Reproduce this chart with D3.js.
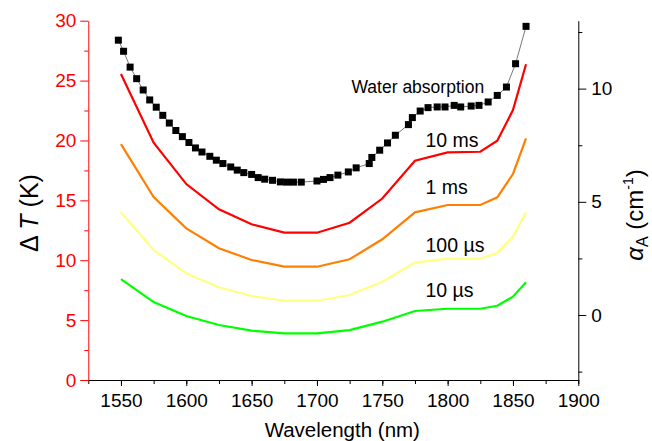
<!DOCTYPE html>
<html>
<head>
<meta charset="utf-8">
<script src="https://cdn.jsdelivr.net/npm/d3@7"></script>
<style>
  body { margin: 0; background: #fff; }
  svg text { font-family: "Liberation Sans", Arial, sans-serif; }
</style>
</head>
<body>
<div id="chart"></div>
<script>
// wavelength grid of the simulated temperature rise curves (nm)
var wavelengths = [1550, 1575, 1600, 1625, 1650, 1675, 1700, 1725, 1750, 1775, 1800, 1825, 1838, 1850, 1860];

// temperature rise (K) for each exposure time
var dT_10ms  = [25.55, 19.82, 16.36, 14.25, 13.0, 12.3, 12.3, 13.13, 15.15, 18.31, 19.01, 19.06, 19.98, 22.54, 26.36];
var dT_1ms   = [19.7, 15.28, 12.66, 11.0, 10.02, 9.46, 9.46, 10.08, 11.75, 14.0, 14.61, 14.61, 15.25, 17.2, 20.18];
var dT_100us = [14.0, 10.85, 8.9, 7.74, 7.01, 6.62, 6.62, 7.1, 8.21, 9.8, 10.13, 10.13, 10.63, 11.97, 14.0];
var dT_10us  = [8.43, 6.51, 5.34, 4.59, 4.12, 3.9, 3.9, 4.17, 4.87, 5.76, 5.95, 5.95, 6.2, 6.96, 8.16];

var seriesNames = ["10 ms", "1 ms", "100 \u00b5s", "10 \u00b5s"];

// water absorption coefficient (cm^-1)
var waterWl = [1548, 1552, 1557, 1562, 1567, 1572, 1577, 1582, 1587, 1592, 1597, 1602, 1607, 1612, 1618,
  1623, 1628, 1634, 1639, 1644, 1650, 1655, 1660, 1666, 1672, 1677, 1682, 1688, 1700, 1705, 1710, 1716,
  1724, 1730, 1740, 1742, 1748, 1754, 1760, 1770, 1773, 1779, 1785, 1792, 1798, 1805, 1810, 1818, 1824,
  1831, 1838, 1845, 1852, 1860];
var waterAlpha = [12.14, 11.65, 10.95, 10.44, 9.94, 9.5, 9.18, 8.82, 8.48, 8.15, 7.88, 7.62, 7.38, 7.2, 7.01,
  6.84, 6.69, 6.54, 6.4, 6.29, 6.21, 6.07, 6.0, 5.95, 5.88, 5.87, 5.87, 5.87, 5.92, 5.99, 6.07, 6.18,
  6.32, 6.5, 6.69, 6.96, 7.28, 7.6, 7.94, 8.41, 8.72, 9.01, 9.16, 9.19, 9.19, 9.26, 9.19, 9.23, 9.26,
  9.41, 9.7, 10.07, 11.1, 12.75];

var xTicks = [1550, 1600, 1650, 1700, 1750, 1800, 1850, 1900];
var leftTicks = [0, 5, 10, 15, 20, 25, 30];
var rightTicks = [0, 5, 10];

var width = 652, height = 441;
var plotLeft = 88.3, plotRight = 578.3, plotTop = 20.7, plotBottom = 380;

var svg = d3.select("#chart").append("svg")
    .attr("width", width)
    .attr("height", height);

var x = d3.scaleLinear().domain([1525, 1900]).range([plotLeft, plotRight]);
var yL = d3.scaleLinear().domain([0, 30]).range([plotBottom, plotTop]);
var yR = d3.scaleLinear().domain([-2.87, 13]).range([plotBottom, plotTop]);

// x axis: minor ticks then major ticks with labels
svg.append("g")
    .attr("transform", "translate(0," + plotBottom + ")")
    .call(d3.axisBottom(x).tickValues(d3.range(1525, 1901, 25)).tickSize(4).tickFormat(""))
    .call(g => g.select(".domain").remove());
var xAxis = svg.append("g")
    .attr("transform", "translate(0," + plotBottom + ")")
    .call(d3.axisBottom(x).tickValues(xTicks).tickSize(6).tickPadding(8).tickSizeOuter(0).tickFormat(d3.format("d")));
xAxis.selectAll("text").attr("font-size", "19px").attr("fill", "#000")
    .attr("font-family", "Liberation Sans, Arial, sans-serif");
xAxis.selectAll("line, path").attr("stroke", "#000");

// left axis (red)
svg.append("g")
    .attr("transform", "translate(" + plotLeft + ",0)")
    .call(d3.axisLeft(yL).tickValues(d3.range(2.5, 30, 5)).tickSize(4).tickFormat(""))
    .call(g => g.select(".domain").remove())
    .selectAll("line").attr("stroke", "#ff0000");
var yAxisL = svg.append("g")
    .attr("transform", "translate(" + plotLeft + ",0)")
    .call(d3.axisLeft(yL).tickValues(leftTicks).tickSize(8).tickPadding(4).tickSizeOuter(0));
yAxisL.selectAll("line, path").attr("stroke", "#ff0000");
yAxisL.selectAll("text").attr("font-size", "19px").attr("fill", "#ff0000")
    .attr("font-family", "Liberation Sans, Arial, sans-serif");

// right axis (black)
svg.append("g")
    .attr("transform", "translate(" + plotRight + ",0)")
    .call(d3.axisRight(yR).tickValues([-2.5, 2.5, 7.5, 12.5]).tickSize(4).tickFormat(""))
    .call(g => g.select(".domain").remove());
var yAxisR = svg.append("g")
    .attr("transform", "translate(" + plotRight + ",0)")
    .call(d3.axisRight(yR).tickValues(rightTicks).tickSize(8).tickPadding(5).tickSizeOuter(0));
yAxisR.selectAll("line, path").attr("stroke", "#000");
yAxisR.selectAll("text").attr("font-size", "19px").attr("fill", "#000")
    .attr("font-family", "Liberation Sans, Arial, sans-serif");

// temperature curves
var curves = [
    { values: dT_10ms, color: "#ff0000", labelY: 146.7 },
    { values: dT_1ms, color: "#ff8000", labelY: 194 },
    { values: dT_100us, color: "#ffff80", labelY: 252.3 },
    { values: dT_10us, color: "#00ff00", labelY: 297.3 }
];

var line = d3.line()
    .x(function (d) { return x(d[0]); })
    .y(function (d) { return yL(d[1]); });

curves.forEach(function (c, i) {
    var pts = wavelengths.map(function (w, j) { return [w, c.values[j]]; });
    svg.append("path")
        .datum(pts)
        .attr("fill", "none")
        .attr("stroke", c.color)
        .attr("stroke-width", 2.2)
        .attr("d", line);

    svg.append("text")
        .attr("x", 425.5)
        .attr("y", c.labelY)
        .attr("font-size", "19.5px")
        .attr("fill", "#000")
        .text(seriesNames[i]);
});

// water absorption: thin line + square markers
var water = waterWl.map(function (w, j) { return [w, waterAlpha[j]]; });
svg.append("path")
    .datum(water)
    .attr("fill", "none")
    .attr("stroke", "#555")
    .attr("stroke-width", 0.8)
    .attr("d", d3.line()
        .x(function (d) { return x(d[0]); })
        .y(function (d) { return yR(d[1]); }));

svg.selectAll(".sq")
    .data(water)
    .enter().append("rect")
    .attr("class", "sq")
    .attr("x", function (d) { return x(d[0]) - 3.5; })
    .attr("y", function (d) { return yR(d[1]) - 3.5; })
    .attr("width", 7)
    .attr("height", 7)
    .attr("fill", "#000");

svg.append("text")
    .attr("x", 351.5)
    .attr("y", 92.7)
    .attr("font-size", "17.5px")
    .attr("fill", "#000")
    .text("Water absorption");

// axis titles
svg.append("text")
    .attr("x", (plotLeft + plotRight) / 2 + 9)
    .attr("y", 437)
    .attr("text-anchor", "middle")
    .attr("font-size", "20.5px")
    .attr("fill", "#000")
    .text("Wavelength (nm)");

var tL = svg.append("text")
    .attr("transform", "translate(38,213) rotate(-90)")
    .attr("text-anchor", "middle")
    .attr("font-size", "25px")
    .attr("fill", "#000");
tL.append("tspan").text("\u0394 ");
tL.append("tspan").attr("font-style", "italic").text("T");
tL.append("tspan").text(" (K)");

var tR = svg.append("text")
    .attr("transform", "translate(643,215) rotate(-90)")
    .attr("text-anchor", "middle")
    .attr("font-size", "24px")
    .attr("fill", "#000");
tR.append("tspan").attr("font-style", "italic").text("\u03b1");
tR.append("tspan").attr("font-size", "16px").attr("dy", 5).text("A");
tR.append("tspan").attr("dy", -5).text(" (cm");
tR.append("tspan").attr("font-size", "14px").attr("dy", -10).text("-1");
tR.append("tspan").attr("dy", 10).text(")");
</script>
</body>
</html>
